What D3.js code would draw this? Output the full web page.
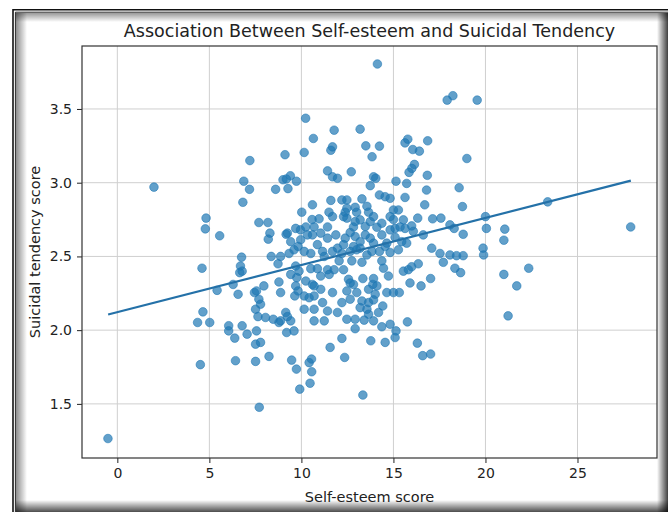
<!DOCTYPE html>
<html>
<head>
<meta charset="utf-8">
<script src="https://cdn.jsdelivr.net/npm/d3@7"></script>
<style>
  html, body { margin: 0; padding: 0; background: #fff; }
  svg { display: block; font-family: "DejaVu Sans", sans-serif; }
</style>
</head>
<body>
<div id="chart"></div>
<script>
// Scatter of self-esteem vs suicidal tendency with a fitted regression line.
var selfEsteem = [
  11.78, 10.65, 7.2, 9.11, 10.15, 11.69, 11.6, 11.42, 11.69, 11.96,
  6.87, 7.18, 6.82, 9.0, 9.4, 9.73, 9.18, 8.6, 9.27, 10.6,
  10.02, 11.6, 11.5, 11.69, 10.96, 4.82, 4.78, 5.56, 7.69, 8.18,
  8.29, 8.2, 9.24, 9.69, 10.24, 10.69, 10.6, 11.05, 11.42, 11.87,
  9.82, 10.15, 9.6, 10.87, 11.15, 11.96, 6.75, 8.36, 8.87, 9.33,
  11.24, 10.23, 1.99, 9.17, 9.95, 10.58,
  13.19, 13.5, 14.24, 13.84, 15.63, 15.78, 16.05, 16.41, 16.86, 18.99,
  16.14, 16.0, 15.85, 15.72, 12.71, 13.92, 14.04, 15.14, 16.84, 13.74,
  16.8, 18.57, 14.24, 14.55, 14.82, 15.63, 16.7, 18.75, 12.2, 12.47,
  13.29, 13.56, 13.65, 13.0, 12.38, 12.47, 15.0, 15.27, 15.54, 16.32,
  17.13, 17.58, 20.0, 12.92, 12.83, 13.74, 14.37, 15.0, 14.82, 15.09,
  15.36, 15.63, 16.08, 16.62, 18.07, 18.3, 18.79, 20.05, 12.38, 12.92,
  13.47, 12.29, 12.83, 13.19, 13.92, 14.64, 15.45, 15.72, 12.2, 12.65,
  13.0, 13.83, 14.55, 17.08, 17.53, 18.07, 18.43, 18.79, 19.87, 19.9,
  14.13, 17.92, 18.23, 19.55, 23.38, 27.89, 21.05, 21.0,
  4.6, 6.69, 6.78, 6.65, 5.42, 6.29, 6.56, 7.45, 7.56, 7.96,
  8.73, 8.78, 7.69, 7.78, 7.51, 7.64, 8.05, 8.47, 8.87, 9.15,
  9.24, 9.42, 8.78, 9.2, 9.6, 9.69, 9.87, 9.75, 9.69, 9.82,
  10.24, 10.6, 10.69, 9.64, 10.15, 10.42, 11.05, 11.51, 10.51, 10.87,
  11.42, 10.15, 10.69, 11.15, 11.42, 11.96, 10.69, 11.24, 11.78, 12.05,
  4.36, 5.02, 4.65, 6.05, 6.05, 6.78, 6.38, 7.05, 7.56, 7.51,
  7.78, 4.51, 6.42, 7.51, 8.24, 9.47, 9.73, 10.42, 10.55, 10.56,
  10.47, 9.91, 11.56, 7.71, -0.51,
  12.74, 13.29, 14.37, 14.46, 14.73, 15.54, 15.81, 15.99, 16.35, 15.9,
  16.5, 17.02, 17.71, 18.34, 18.65, 12.29, 12.56, 12.83, 12.65, 13.34,
  13.92, 13.88, 13.65, 14.01, 14.64, 15.0, 15.32, 12.2, 12.65, 13.29,
  13.65, 13.92, 13.56, 13.65, 14.42, 12.47, 13.41, 13.92, 14.37, 14.82,
  15.14, 15.09, 15.76, 12.92, 12.2, 13.77, 14.55, 16.3, 16.59, 17.02,
  12.35, 13.34, 21.0, 21.7, 22.35, 21.23,
  12.47, 12.29, 12.92, 13.19, 13.47, 13.92, 14.1, 14.37, 12.65, 13.19,
  13.74, 14.24, 14.82, 15.09, 14.82, 15.99, 15.27, 13.56,
  10.33, 11.42, 9.96, 11.69, 10.51, 9.42,
  12.47, 13.01, 14.1, 13.19, 14.19, 12.92,
  11.05, 11.69, 10.69, 9.42, 8.87
];

var suicidal = [
  3.356, 3.30, 3.15, 3.19, 3.205, 3.243, 3.22, 3.08, 3.04, 3.03,
  3.01, 2.955, 2.867, 3.02, 3.047, 3.01, 3.025, 2.955, 2.96, 2.85,
  2.80, 2.88, 2.80, 2.77, 2.755, 2.76, 2.687, 2.64, 2.73, 2.73,
  2.658, 2.617, 2.658, 2.69, 2.70, 2.70, 2.646, 2.658, 2.624, 2.646,
  2.568, 2.534, 2.545, 2.58, 2.534, 2.556, 2.495, 2.50, 2.50, 2.52,
  2.50, 3.437, 2.97, 2.65, 2.68, 2.75,
  3.363, 3.25, 3.248, 3.176, 3.27, 3.295, 3.225, 3.214, 3.284, 3.164,
  3.124, 3.097, 3.07, 2.995, 3.074, 3.04, 3.03, 3.01, 3.05, 2.98,
  2.95, 2.966, 2.917, 2.905, 2.894, 2.90, 2.85, 2.838, 2.883, 2.883,
  2.89, 2.84, 2.80, 2.80, 2.80, 2.76, 2.815, 2.815, 2.748, 2.76,
  2.755, 2.76, 2.77, 2.736, 2.70, 2.736, 2.725, 2.75, 2.68, 2.69,
  2.70, 2.69, 2.67, 2.646, 2.714, 2.69, 2.65, 2.69, 2.624, 2.635,
  2.646, 2.58, 2.567, 2.556, 2.59, 2.59, 2.60, 2.59, 2.52, 2.534,
  2.545, 2.534, 2.567, 2.556, 2.52, 2.51, 2.505, 2.505, 2.556, 2.51,
  3.805, 3.56, 3.59, 3.56, 2.87, 2.70, 2.685, 2.61,
  2.42, 2.435, 2.40, 2.39, 2.27, 2.31, 2.243, 2.255, 2.266, 2.30,
  2.45, 2.327, 2.21, 2.176, 2.142, 2.092, 2.086, 2.074, 2.063, 2.12,
  2.092, 2.063, 2.052, 1.984, 1.995, 2.435, 2.40, 2.356, 2.30, 2.266,
  2.333, 2.31, 2.30, 2.232, 2.232, 2.22, 2.367, 2.378, 2.417, 2.417,
  2.41, 2.142, 2.142, 2.187, 2.13, 2.12, 2.063, 2.063, 2.41, 2.47,
  2.052, 2.052, 2.124, 2.03, 1.995, 2.03, 1.946, 1.973, 1.995, 1.905,
  1.917, 1.766, 1.793, 1.788, 1.822, 1.797, 1.736, 1.78, 1.804, 1.718,
  1.64, 1.60, 1.883, 1.477, 1.265,
  2.47, 2.46, 2.47, 2.42, 2.367, 2.40, 2.41, 2.43, 2.45, 2.32,
  2.30, 2.35, 2.46, 2.42, 2.39, 2.41, 2.345, 2.31, 2.32, 2.35,
  2.35, 2.31, 2.277, 2.243, 2.255, 2.255, 2.255, 2.187, 2.21, 2.198,
  2.187, 2.205, 2.142, 2.108, 2.164, 2.074, 2.068, 2.063, 2.023, 2.04,
  1.995, 1.95, 2.056, 2.01, 1.944, 1.928, 1.917, 1.912, 1.827, 1.838,
  1.815, 1.56, 2.378, 2.30, 2.42, 2.097,
  2.827, 2.77, 2.833, 2.748, 2.703, 2.77, 2.698, 2.646, 2.662, 2.60,
  2.624, 2.534, 2.77, 2.63, 2.527, 2.707, 2.545, 2.51,
  2.646, 2.70, 2.613, 2.534, 2.52, 2.60,
  2.266, 2.255, 2.30, 2.153, 2.12, 2.074,
  2.277, 2.255, 2.232, 2.378, 2.255
];

// regression line end points
var fitX = [-0.5, 27.9];
var fitY = [2.106, 3.014];

var xTicks = [0, 5, 10, 15, 20, 25];
var yTicks = [1.5, 2.0, 2.5, 3.0, 3.5];

var title = "Association Between Self-esteem and Suicidal Tendency";
var xLabel = "Self-esteem score";
var yLabel = "Suicidal tendency score";

(function () {
  "use strict";

  var width = 668, height = 512;
  var margin = { top: 46, right: 11, bottom: 54, left: 82 };
  var blue = "#1f77b4";

  var svg = d3.select("#chart").append("svg")
    .attr("width", width)
    .attr("height", height);

  // picture-frame look: inset shadows and a double dark border
  var defs = svg.append("defs");
  function grad(id, x1, y1, x2, y2, from, to) {
    var g = defs.append("linearGradient").attr("id", id)
      .attr("x1", x1).attr("y1", y1).attr("x2", x2).attr("y2", y2);
    g.append("stop").attr("offset", "0%").attr("stop-color", "#000").attr("stop-opacity", from);
    g.append("stop").attr("offset", "100%").attr("stop-color", "#000").attr("stop-opacity", to);
  }
  grad("shL", 0, 0, 1, 0, 0.45, 0);
  grad("shT", 0, 0, 0, 1, 0.4, 0);
  grad("shR", 0, 0, 1, 0, 0, 0.75);
  grad("shB", 0, 0, 0, 1, 0, 0.7);

  var frame = svg.append("g");
  frame.append("rect").attr("x", 16).attr("y", 13).attr("width", 11).attr("height", height - 13).attr("fill", "url(#shL)");
  frame.append("rect").attr("x", 16).attr("y", 13).attr("width", width - 16).attr("height", 9).attr("fill", "url(#shT)");
  frame.append("rect").attr("x", 657).attr("y", 13).attr("width", 11).attr("height", height - 13).attr("fill", "url(#shR)");
  frame.append("rect").attr("x", 16).attr("y", 500).attr("width", width - 16).attr("height", 12).attr("fill", "url(#shB)");
  frame.append("path").attr("d", "M13,512V9.8H668").attr("fill", "none").attr("stroke", "#111").attr("stroke-width", 1.6);
  frame.append("path").attr("d", "M15.4,512V12.2H668").attr("fill", "none").attr("stroke", "#222").attr("stroke-width", 1);

  var x = d3.scaleLinear().domain([-1.92, 29.32]).range([margin.left, width - margin.right]);
  var y = d3.scaleLinear().domain([1.133, 3.927]).range([height - margin.bottom, margin.top]);

  var plot = svg.append("g");

  // grid
  plot.append("g").selectAll("line").data(xTicks).join("line")
    .attr("x1", function (d) { return x(d); }).attr("x2", function (d) { return x(d); })
    .attr("y1", y.range()[1]).attr("y2", y.range()[0])
    .attr("stroke", "#cfcfcf").attr("stroke-width", 1);
  plot.append("g").selectAll("line").data(yTicks).join("line")
    .attr("y1", function (d) { return y(d); }).attr("y2", function (d) { return y(d); })
    .attr("x1", x.range()[0]).attr("x2", x.range()[1])
    .attr("stroke", "#cfcfcf").attr("stroke-width", 1);

  // points
  var pts = selfEsteem.map(function (v, i) { return { x: v, y: suicidal[i] }; });
  plot.append("g").selectAll("circle").data(pts).join("circle")
    .attr("cx", function (d) { return x(d.x); })
    .attr("cy", function (d) { return y(d.y); })
    .attr("r", 4.3)
    .attr("fill", blue).attr("fill-opacity", 0.7)
    .attr("stroke", blue).attr("stroke-opacity", 0.7).attr("stroke-width", 0.8);

  // regression line
  plot.append("path")
    .datum(fitX.map(function (v, i) { return [v, fitY[i]]; }))
    .attr("d", d3.line().x(function (d) { return x(d[0]); }).y(function (d) { return y(d[1]); }))
    .attr("fill", "none").attr("stroke", "#2471a8").attr("stroke-width", 2.2);

  // axes
  var xAxis = svg.append("g")
    .attr("transform", "translate(0," + (height - margin.bottom) + ")")
    .call(d3.axisBottom(x).tickValues(xTicks).tickFormat(d3.format("d")).tickSizeOuter(0).tickSize(5).tickPadding(5));
  var yAxis = svg.append("g")
    .attr("transform", "translate(" + margin.left + ",0)")
    .call(d3.axisLeft(y).tickValues(yTicks).tickFormat(d3.format(".1f")).tickSizeOuter(0).tickSize(5).tickPadding(5));
  [xAxis, yAxis].forEach(function (a) {
    a.select(".domain").remove();
    a.selectAll("text").attr("font-size", 14).attr("fill", "#222").attr("font-family", "DejaVu Sans");
    a.selectAll("line").attr("stroke", "#222");
  });

  svg.append("rect")
    .attr("x", x.range()[0]).attr("y", y.range()[1])
    .attr("width", x.range()[1] - x.range()[0]).attr("height", y.range()[0] - y.range()[1])
    .attr("fill", "none").attr("stroke", "#333").attr("stroke-width", 1.2);

  // labels
  svg.append("text")
    .attr("x", (x.range()[0] + x.range()[1]) / 2).attr("y", 37)
    .attr("text-anchor", "middle").attr("font-size", 17.5).attr("fill", "#222")
    .text(title);
  svg.append("text")
    .attr("x", (x.range()[0] + x.range()[1]) / 2).attr("y", 502)
    .attr("text-anchor", "middle").attr("font-size", 14.5).attr("fill", "#222")
    .text(xLabel);
  svg.append("text")
    .attr("transform", "translate(40," + ((y.range()[0] + y.range()[1]) / 2) + ") rotate(-90)")
    .attr("text-anchor", "middle").attr("font-size", 14.5).attr("fill", "#222")
    .text(yLabel);
})();
</script>
</body>
</html>
